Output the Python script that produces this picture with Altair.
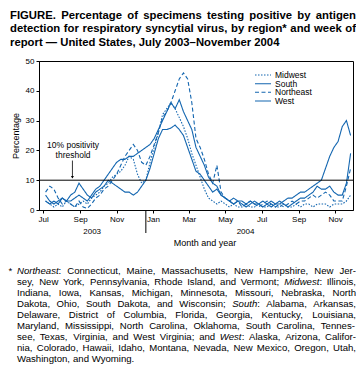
import altair as alt
import pandas as pd

# ---------------- data ----------------
regions = ["Midwest", "South", "Northeast", "West"]
first_week = "2003-07-05"

midwest = [3, 2, 1, 2, 1, 3, 2, 1, 2, 3, 2, 4, 5, 6, 8, 9, 11, 12, 13, 15,
           18, 17, 12, 9, 10, 16, 21, 26, 32, 34, 36, 34, 31, 28, 24, 19, 15, 11, 7, 4,
           3, 2, 3, 2, 1, 2, 1, 1, 2, 1, 1, 2, 1, 1, 2, 1, 1, 2, 1, 1,
           2, 1, 2, 2, 1, 2, 2, 2, 1, 2, 2, 2, 3, 5]
south = [3, 2, 3, 2, 4, 3, 3, 4, 5, 4, 3, 5, 7, 8, 10, 12, 14, 16, 17, 17,
         18, 18, 19, 20, 21, 22, 24, 27, 30, 33, 36, 34, 37, 33, 30, 27, 21, 18, 15, 11,
         9, 8, 5, 4, 3, 4, 3, 3, 2, 3, 2, 2, 3, 2, 3, 2, 2, 3, 4, 4,
         5, 6, 6, 7, 8, 9, 10, 14, 18, 21, 23, 28, 30, 25]
northeast = [6, 8, 7, 4, 2, 3, 2, 1, 3, 1, 0.5, 2, 4, 5, 7, 8, 10, 12, 15, 18,
             20, 22, 20, 16, 15, 18, 22, 26, 31, 33, 36, 40, 44, 46, 44, 36, 24, 21, 17, 12,
             9, 15, 6, 4, 3, 2, 3, 1, 2, 3, 2, 1, 2, 3, 2, 1, 2, 1, 2, 3,
             2, 3, 3, 4, 5, 4, 5, 6, 5, 3, 3, 3, 8, 14]
west = [5, 3, 2, 3, 4, 3, 5, 6, 9, 7, 5, 4, 6, 7, 8, 10, 9, 8, 7, 6,
        6, 5, 6, 8, 10, 14, 19, 24, 27, 27, 27.5, 28.5, 27, 25, 21, 17, 13, 12, 10, 8,
        6, 7, 5, 4, 3, 2, 3, 2, 1, 2, 3, 2, 1, 2, 1, 2, 3, 2, 1, 2,
        3, 4, 4, 5, 6, 8, 7, 7, 8, 6, 5, 5, 9, 19]

month_ticks = ["2003-07-01", "2003-09-01", "2003-11-01", "2004-01-01", "2004-03-01",
               "2004-05-01", "2004-07-01", "2004-09-01", "2004-11-01"]
y_ticks = [0, 10, 20, 30, 40, 50]
threshold = 10
year_labels = ["2003", "2004"]
year_label_dates = ["2003-09-21", "2004-06-04"]
year_break = "2003-12-20"
annotation_lines = ["10% positivity", "threshold"]

title_lines = [
    "FIGURE. Percentage of specimens testing positive by antigen",
    "detection for respiratory syncytial virus, by region* and week of",
    "report \u2014 United States, July 2003\u2013November 2004",
]
footnote_lines = [
    "_Northeast_: Connecticut, Maine, Massachusetts, New Hampshire, New Jer-",
    "sey, New York, Pennsylvania, Rhode Island, and Vermont; _Midwest_: Illinois,",
    "Indiana, Iowa, Kansas, Michigan, Minnesota, Missouri, Nebraska, North",
    "Dakota, Ohio, South Dakota, and Wisconsin; _South_: Alabama, Arkansas,",
    "Delaware, District of Columbia, Florida, Georgia, Kentucky, Louisiana,",
    "Maryland, Mississippi, North Carolina, Oklahoma, South Carolina, Tennes-",
    "see, Texas, Virginia, and West Virginia; and _West_: Alaska, Arizona, Califor-",
    "nia, Colorado, Hawaii, Idaho, Montana, Nevada, New Mexico, Oregon, Utah,",
    "Washington, and Wyoming.",
]

# ---------------- styling ----------------
FONT = "Liberation Sans, Arial, Helvetica, sans-serif"
BLUE = "#1366b0"
W, H = 314, 149

dates = pd.date_range(first_week, periods=len(south), freq="7D").strftime("%Y-%m-%d")
series = {"Midwest": midwest, "South": south, "Northeast": northeast, "West": west}
rows = []
for r in regions:
    for d, v in zip(dates, series[r]):
        rows.append({"date": d, "pct": v, "region": r})
df = pd.DataFrame(rows)


def dt(s):
    y, m, d = (int(p) for p in s.split("-"))
    return alt.DateTime(year=y, month=m, date=d, utc=True)


xscale = alt.Scale(type="utc", domain=[dt("2003-06-24"), dt("2004-12-01")])
yscale = alt.Scale(domain=[0, 50], nice=False)
dash_scale = alt.Scale(domain=regions, range=[[1.5, 1.5], [1, 0], [4, 2.5], [1, 0]])

xaxis = alt.Axis(values=[dt(s) for s in month_ticks],
                 labelExpr="utcFormat(datum.value, '%b')",
                 title=None, tickSize=3, labelFontSize=8, labelPadding=2,
                 labelFlush=False, labelOverlap=False, labelBound=False, grid=False)
yaxis = alt.Axis(values=y_ticks, title="Percentage", tickSize=3, labelFontSize=8,
                 labelPadding=2, titleFontSize=9, titleFontWeight="normal",
                 titlePadding=5, labelOverlap=False, labelFlush=False,
                 labelBound=False, grid=False)


def X(field="date:T"):
    return alt.X(field, scale=xscale, axis=xaxis)


def Y(field="pct:Q"):
    return alt.Y(field, scale=yscale, axis=yaxis)


lines = alt.Chart(df).mark_line(strokeWidth=1.1, color=BLUE).encode(
    x=X(), y=Y(),
    detail="region:N",
    strokeDash=alt.StrokeDash("region:N", scale=dash_scale, legend=None),
)

thr = alt.Chart(pd.DataFrame({"pct": [threshold]})).mark_rule(
    color="black", strokeWidth=1).encode(y=Y())

ann_df = pd.DataFrame({"date": ["2003-08-20", "2003-08-20"],
                       "pct": [21.8, 18.5], "text": annotation_lines})
ann = alt.Chart(ann_df).mark_text(fontSize=8.5, font=FONT, color="black",
                                  align="center", baseline="middle").encode(
    x=X(), y=Y(), text="text:N")

arrow = alt.Chart(pd.DataFrame({"date": ["2003-08-19"], "pct": [16.6], "pct2": [10.8]})).mark_rule(
    color="black", strokeWidth=0.8).encode(x=X(), y=Y(), y2="pct2:Q")
arrowhead = alt.Chart(pd.DataFrame({"date": ["2003-08-19"], "pct": [11.0]})).mark_point(
    shape="triangle-down", filled=True, size=9, color="black", opacity=1).encode(
    x=X(), y=Y())

sep = alt.Chart(pd.DataFrame({"date": [year_break]})).mark_rule(
    color="black", strokeWidth=1).encode(
    x=X(), y=alt.value(H), y2=alt.value(H + 23))

years = alt.Chart(pd.DataFrame({"date": year_label_dates, "text": year_labels})).mark_text(
    fontSize=8, font=FONT, color="black", baseline="middle").encode(
    x=X(), y=alt.value(H + 22), text="text:N")

xtitle = alt.Chart(pd.DataFrame({"text": ["Month and year"]})).mark_text(
    fontSize=9, font=FONT, color="black", baseline="middle").encode(
    x=alt.value(166), y=alt.value(H + 33), text="text:N")

plot = alt.layer(lines, thr, ann, arrow, arrowhead, sep, years, xtitle)

# ---------------- legend (inside plot) ----------------
leg_df = pd.DataFrame({"region": regions, "ly": [14, 22.7, 31.3, 40]})
leg_lines = alt.Chart(leg_df).mark_rule(color=BLUE, strokeWidth=1.1).encode(
    x=alt.value(216), x2=alt.value(232),
    y=alt.Y("ly:Q", scale=None, axis=None),
    strokeDash=alt.StrokeDash("region:N", scale=dash_scale, legend=None))
leg_text = alt.Chart(leg_df).mark_text(fontSize=8.5, font=FONT, color="black",
                                       align="left", baseline="middle").encode(
    x=alt.value(236), y=alt.Y("ly:Q", scale=None, axis=None), text="region:N")

# ---------------- justified text blocks ----------------
REG = {" ": 278, ",": 278, ".": 278, ":": 278, ";": 278, "-": 333, "*": 389, "%": 889,
       "\u2014": 1000, "\u2013": 556,
       "A": 667, "B": 667, "C": 722, "D": 722, "E": 667, "F": 611, "G": 778, "H": 722,
       "I": 278, "J": 500, "K": 667, "L": 556, "M": 833, "N": 722, "O": 778, "P": 667,
       "Q": 778, "R": 722, "S": 667, "T": 611, "U": 722, "V": 667, "W": 944, "X": 667,
       "Y": 667, "Z": 611,
       "a": 556, "b": 556, "c": 500, "d": 556, "e": 556, "f": 278, "g": 556, "h": 556,
       "i": 222, "j": 222, "k": 500, "l": 222, "m": 833, "n": 556, "o": 556, "p": 556,
       "q": 556, "r": 333, "s": 500, "t": 278, "u": 556, "v": 500, "w": 722, "x": 500,
       "y": 500, "z": 500}
BOLD = dict(REG)
BOLD.update({"A": 722, "B": 722, "J": 556, "K": 722, "L": 611,
             "a": 556, "b": 611, "c": 556, "d": 611, "e": 556, "f": 333, "g": 611,
             "h": 611, "i": 278, "j": 278, "k": 556, "l": 278, "m": 889, "n": 611,
             "o": 611, "p": 611, "q": 611, "r": 389, "s": 556, "t": 333, "u": 611,
             "v": 556, "w": 778, "x": 556, "y": 556, "z": 500})


def tw(s, size, table):
    return sum(table.get(c, 556) for c in s) * size / 1000.0


def layout(lines_, x0, width, y0, dy, size, table, justify_last=False):
    out = []
    for k, line in enumerate(lines_):
        toks = line.split(" ")
        parts = []
        widths = []
        for t in toks:
            segs = t.split("_")
            p = [(s, i % 2 == 1) for i, s in enumerate(segs) if s]
            parts.append(p)
            widths.append(sum(tw(s, size, table) for s, _ in p))
        last = k == len(lines_) - 1
        if (not last or justify_last) and len(toks) > 1:
            gap = (width - sum(widths)) / (len(toks) - 1)
        else:
            gap = tw(" ", size, table)
        x = x0
        for p, wd in zip(parts, widths):
            xx = x
            for s, it in p:
                out.append({"text": s, "px": xx, "py": y0 + k * dy, "italic": it})
                xx += tw(s, size, table)
            x += wd + gap
    return pd.DataFrame(out)


TSIZE = 11.3
title_df = layout(title_lines, -29, 346, -42, 13.3, TSIZE, BOLD)
FSIZE = 9.6
foot_df = layout(footnote_lines, -22, 339, 213.0, 11.05, FSIZE, REG)
foot_df = pd.concat([foot_df, pd.DataFrame([{"text": "*", "px": -30.5, "py": 213.0,
                                             "italic": False}])], ignore_index=True)


def text_layer(d, size, weight="normal", style="normal"):
    return alt.Chart(d).mark_text(fontSize=size, font=FONT, fontWeight=weight,
                                  fontStyle=style, color="black", align="left",
                                  baseline="alphabetic").encode(
        x=alt.X("px:Q", scale=None, axis=None),
        y=alt.Y("py:Q", scale=None, axis=None),
        text="text:N")


title_layer = text_layer(title_df, TSIZE, weight="bold")
foot_norm = text_layer(foot_df[~foot_df["italic"]], FSIZE)
foot_ital = text_layer(foot_df[foot_df["italic"]], FSIZE, style="italic")

overlay = alt.layer(leg_lines, leg_text, title_layer, foot_norm, foot_ital)

chart = alt.layer(plot, overlay).resolve_scale(
    x="independent", y="independent", strokeDash="independent"
).properties(
    width=W, height=H,
    autosize=alt.AutoSizeParams(type="none"),
    padding={"left": 31, "top": 53, "right": 3, "bottom": 163},
).configure_view(stroke="black", strokeWidth=1).configure_axis(
    domainColor="black", tickColor="black", labelColor="black", titleColor="black",
    labelFont=FONT, titleFont=FONT, domainWidth=1, tickWidth=1, labelOverlap=False,
)

chart.save("out.html", embed_options={"renderer": "svg", "actions": False})
